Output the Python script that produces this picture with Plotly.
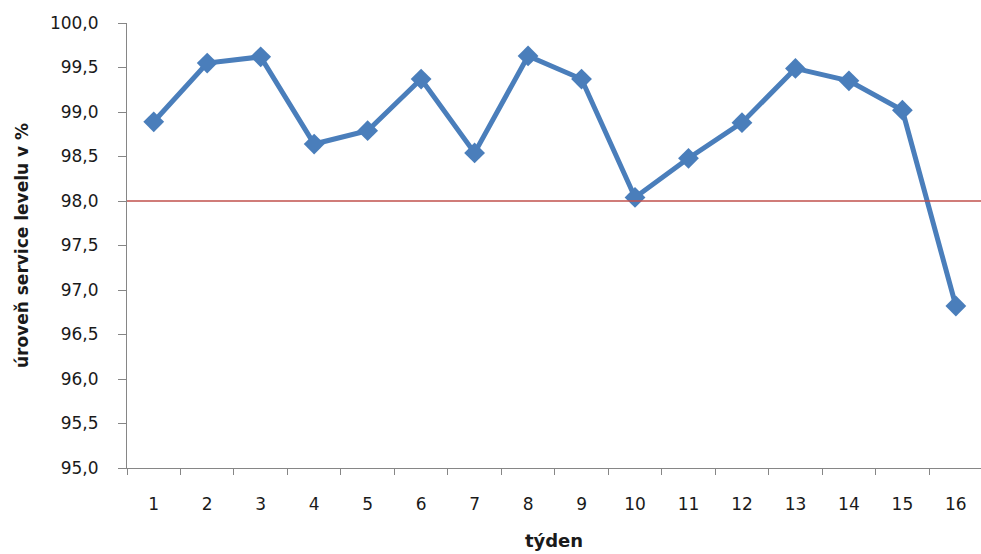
import plotly.graph_objects as go

# Weekly service level (%) and the target level
weeks = [str(w) for w in range(1, 17)]
service_level = [98.89, 99.55, 99.62, 98.64, 98.79, 99.37, 98.54, 99.63,
                 99.37, 98.04, 98.48, 98.88, 99.49, 99.35, 99.02, 96.82]
target_level = 98.0
y_ticks = [95.0 + 0.5 * i for i in range(11)]

BLUE = "#4a7ebb"
RED = "#c0504d"
AXIS = "#868686"
FONT = "DejaVu Sans"

fig = go.Figure()

fig.add_trace(go.Scatter(
    x=weeks,
    y=service_level,
    mode="lines+markers",
    line=dict(color=BLUE, width=5),
    marker=dict(symbol="diamond", size=16, color=BLUE),
    cliponaxis=False,
    showlegend=False,
    hoverinfo="x+y",
))

# target threshold line
fig.add_shape(
    type="line", xref="paper", yref="y",
    x0=0, x1=1, y0=target_level, y1=target_level,
    line=dict(color=RED, width=1.5),
    layer="above",
)

fig.update_layout(
    width=981, height=554,
    margin=dict(l=127, r=0, t=23, b=86),
    paper_bgcolor="white",
    plot_bgcolor="white",
    separators=", ",
    font=dict(family=FONT, size=17, color="#1a1a1a"),
    xaxis=dict(
        type="category",
        range=[-0.5, 15.47],
        tickson="boundaries",
        ticks="outside",
        ticklen=6,
        tickcolor=AXIS,
        showline=True,
        linecolor=AXIS,
        linewidth=1,
        showgrid=False,
        zeroline=False,
        ticklabelstandoff=21,
        tickfont=dict(family=FONT, size=17),
        title=dict(text="<b>týden</b>", font=dict(family=FONT, size=18), standoff=20),
    ),
    yaxis=dict(
        range=[95, 100],
        tickvals=y_ticks,
        tickformat=".1f",
        ticks="outside",
        ticklen=8,
        tickcolor=AXIS,
        showline=True,
        linecolor=AXIS,
        linewidth=1,
        showgrid=False,
        zeroline=False,
        ticklabelstandoff=16,
        tickfont=dict(family=FONT, size=17),
        title=dict(text="<b>úroveň service levelu v %</b>",
                   font=dict(family=FONT, size=17), standoff=16),
    ),
)

fig.write_html("out.html")
